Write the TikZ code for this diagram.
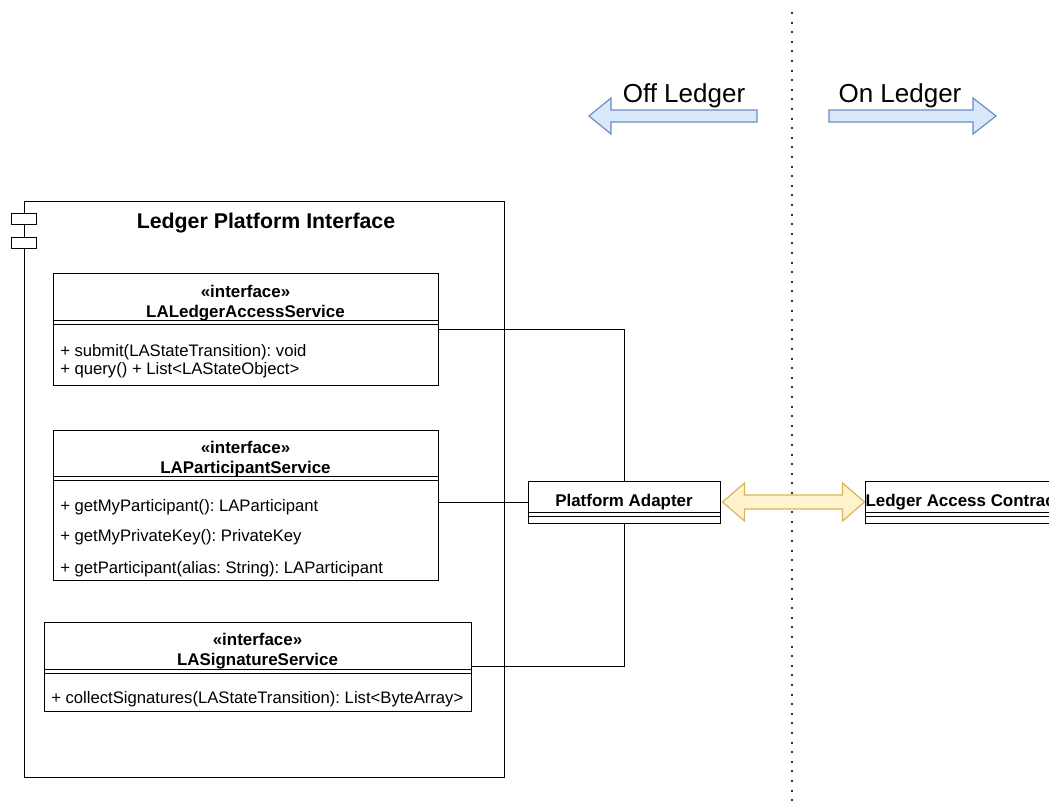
\documentclass[tikz,border=0pt]{standalone}
\usepackage{fontspec}
\setmainfont{Liberation Sans}
\usetikzlibrary{positioning,fit,calc}

\definecolor{blueline}{HTML}{6C8EBF}
\definecolor{bluefill}{HTML}{DAE8FC}
\definecolor{yellowline}{HTML}{D6B656}
\definecolor{yellowfill}{HTML}{FFF2CC}

\begin{document}
\frenchspacing
\begin{tikzpicture}[x=0.75pt, y=-0.75pt,
	box/.style = {draw, inner sep=0pt, line width=0.75pt},
	classhead/.style = {font=\fontsize{12.7}{15}\selectfont\bfseries, align=center, inner sep=0pt},
	method/.style = {font=\fontsize{12.5}{15}\selectfont, anchor=west, inner sep=0pt},
	sepline/.style = {line width=0.75pt},
	sideword/.style = {font=\fontsize{19.5}{23}\selectfont, inner sep=0pt},
	bluearrow/.style = {draw=blueline, fill=bluefill, line width=0.9pt},
	yellowarrow/.style = {draw=yellowline, fill=yellowfill, line width=0.9pt},
	divider/.style = {line width=1.5pt, dash pattern=on 1.5pt off 5.7pt, draw=black!80}]
	\useasboundingbox (0,0) rectangle (1049,811);
	\clip (0,0) rectangle (1049,811);

	% off / on ledger
	\draw[divider] (792,12) coordinate (divtop) -- (792,805) coordinate (divbot);
	\node[sideword] (offword) at (684,96) {Off Ledger};
	\node[sideword] (onword) at (900,96) {On Ledger};
	\draw[bluearrow] (589,116) -- ++(22,-18) -- ++(0,12) -- ++(146,0) -- ++(0,12)
		-- ++(-146,0) -- ++(0,12) -- cycle;
	\draw[bluearrow] (996,116) -- ++(-23,-18) -- ++(0,12) -- ++(-144,0) -- ++(0,12)
		-- ++(144,0) -- ++(0,12) -- cycle;

	% component
	\node[box, fit={(24,201) (504,777)}] (platform) {};
	\node[box, fill=white, fit={(11,213) (36,224)}] (tabA) {};
	\node[box, fill=white, fit={(11,237) (36,248)}] (tabB) {};
	\node[font=\fontsize{16}{19}\selectfont\bfseries, inner sep=0pt] (title) at (266,223) {Ledger Platform Interface};

	% LALedgerAccessService
	\node[box, fit={(53,273) (438,385)}] (accsvc) {};
	\node[classhead] (accsvchead) at (245.5,303) {«interface»\\LALedgerAccessService};
	\draw[sepline] ($(accsvc.north west)+(0,48)$) -- ($(accsvc.north east)+(0,48)$)
		($(accsvc.north west)+(0,52)$) -- ($(accsvc.north east)+(0,52)$);
	\node[method] at (60,352) {+ submit(LAStateTransition): void};
	\node[method] at (60,370) {+ query() + List<LAStateObject>};

	% LAParticipantService
	\node[box, fit={(53,430) (438,580)}] (partsvc) {};
	\node[classhead] (partsvchead) at (245.5,459) {«interface»\\LAParticipantService};
	\draw[sepline] ($(partsvc.north west)+(0,47)$) -- ($(partsvc.north east)+(0,47)$)
		($(partsvc.north west)+(0,51)$) -- ($(partsvc.north east)+(0,51)$);
	\node[method] at (60,507) {+ getMyParticipant(): LAParticipant};
	\node[method] at (60,537) {+ getMyPrivateKey(): PrivateKey};
	\node[method] at (60,569) {+ getParticipant(alias: String): LAParticipant};

	% LASignatureService
	\node[box, fit={(44,622) (471,711)}] (sigsvc) {};
	\node[classhead] (sigsvchead) at (257.5,651) {«interface»\\LASignatureService};
	\draw[sepline] ($(sigsvc.north west)+(0,48)$) -- ($(sigsvc.north east)+(0,48)$)
		($(sigsvc.north west)+(0,52)$) -- ($(sigsvc.north east)+(0,52)$);
	\node[method] at (51,699) {+ collectSignatures(LAStateTransition): List<ByteArray>};

	% adapter and contract
	\node[box, fit={(528,481) (720,523)}] (adapter) {};
	\node[classhead] (adaptertext) at (624,502) {Platform Adapter};
	\draw[sepline] ($(adapter.north west)+(0,32)$) -- ($(adapter.north east)+(0,32)$)
		($(adapter.north west)+(0,36)$) -- ($(adapter.north east)+(0,36)$);
	\node[box, fit={(865,481) (1057,523)}] (contract) {};
	\node[classhead] (contracttext) at (963,502) {Ledger Access Contract};
	\draw[sepline] ($(contract.north west)+(0,32)$) -- ($(contract.north east)+(0,32)$)
		($(contract.north west)+(0,36)$) -- ($(contract.north east)+(0,36)$);

	% connectors
	\draw[sepline] (accsvc.east) -| (adapter.north);
	\draw[sepline] (adapter.west) -- (adapter.west -| partsvc.east);
	\draw[sepline] (sigsvc.east) -| (adapter.south);
	\draw[yellowarrow] ($(adapter.east)+(2,0)$) -- ++(22,-19) -- ++(0,12) -- ++(98,0)
		-- ++(0,-12) -- ++(22,19) -- ++(-22,19) -- ++(0,-12) -- ++(-98,0)
		-- ++(0,12) -- cycle;
\end{tikzpicture}
\end{document}
